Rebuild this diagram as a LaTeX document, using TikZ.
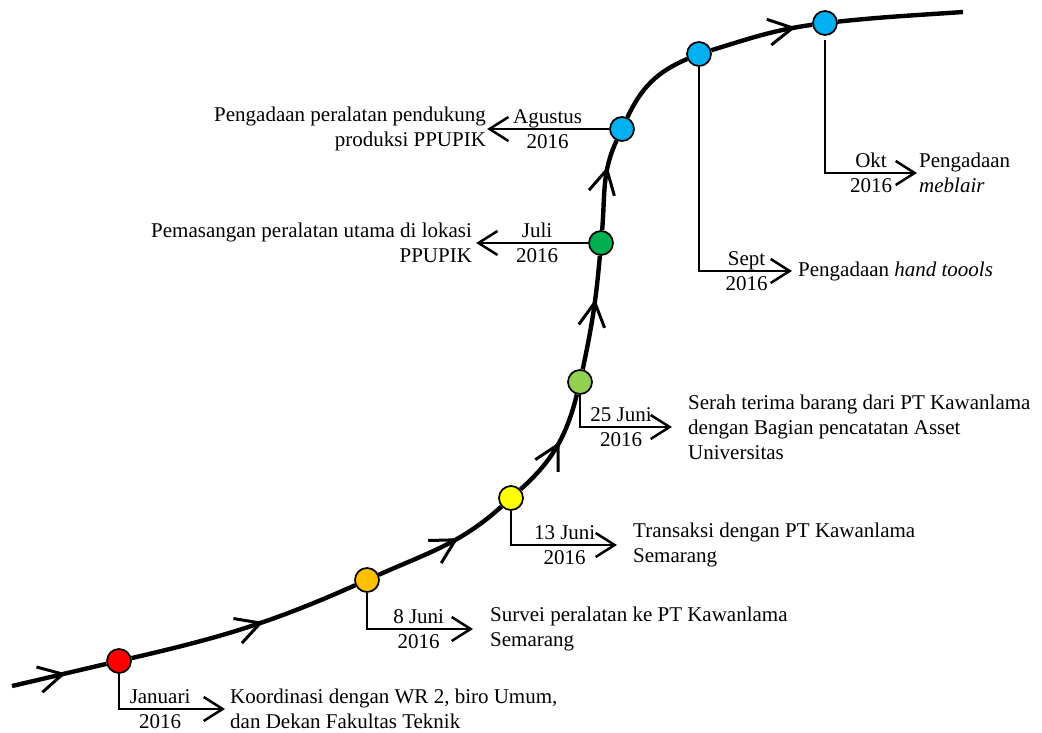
\documentclass[tikz,border=0pt]{standalone}
\usepackage{fontspec}
\setmainfont{Liberation Serif}
\usetikzlibrary{arrows.meta,positioning,decorations.markings}
\definecolor{dotRed}{HTML}{FF0000}
\definecolor{dotOrange}{HTML}{FFC000}
\definecolor{dotYellow}{HTML}{FFFF00}
\definecolor{dotLime}{HTML}{92D050}
\definecolor{dotGreen}{HTML}{00B050}
\definecolor{dotBlue}{HTML}{00B0F0}

\begin{document}
\begin{tikzpicture}[
  x=1pt, y=1pt,
  font=\fontsize{21}{25}\selectfont,
  dot/.style={circle, draw, line width=1.7pt, minimum size=24pt, inner sep=0pt},
  curve/.style={line width=4.4pt},
  midarrow/.style={postaction={decorate}, decoration={markings,
    mark=at position #1 with {\arrow{Straight Barb[length=24pt,width=26pt,line width=3pt]}}}},
  lead/.style={line width=2.5pt, -{Straight Barb[length=19pt,width=24pt]}},
  date/.style={align=center, inner sep=0pt},
  txt/.style={align=left, inner sep=0pt}
]
  \useasboundingbox (0,0) rectangle (1042,733);
  % Milestones
  \coordinate (start) at (12,47);
  \coordinate (end) at (963,721);
  \node[dot, fill=dotRed] (jan) at (119,72) {};
  \node[dot, fill=dotOrange] (jun8) at (367,153) {};
  \node[dot, fill=dotYellow] (jun13) at (511,235) {};
  \node[dot, fill=dotLime] (jun25) at (580,351) {};
  \node[dot, fill=dotGreen] (jul) at (601,490) {};
  \node[dot, fill=dotBlue] (agu) at (622,604) {};
  \node[dot, fill=dotBlue] (sep) at (699,679) {};
  \node[dot, fill=dotBlue] (okt) at (825,710) {};
  % Curve
  \draw[curve, midarrow=0.57] (start) to[out=13,in=193] (jan);
  \draw[curve, midarrow=0.58] (jan) to[out=13,in=204] (jun8);
  \draw[curve, midarrow=0.62] (jun8) to[out=24,in=222] (jun13);
  \draw[curve, midarrow=0.55] (jun13) to[out=42,in=256] (jun25);
  \draw[curve, midarrow=0.62] (jun25) to[out=78,in=265] (jul);
  \draw[curve, midarrow=0.7] (jul) to[out=85,in=245] (agu);
  \draw[curve] (agu) to[out=65,in=203] (sep);
  \draw[curve, midarrow=0.84] (sep) to[out=17,in=188] (okt);
  \draw[curve] (okt) to[out=6,in=184] (end);
  % Descriptions
  \node[txt, anchor=west] (jantxt) at (230,24)
    {Koordinasi dengan WR 2, biro Umum,\\dan Dekan Fakultas Teknik};
  \node[txt, anchor=west] (jun8txt) at (490,104)
    {Survei peralatan ke PT Kawanlama\\Semarang};
  \node[txt, anchor=west] (jun13txt) at (633,188)
    {Transaksi dengan PT Kawanlama\\Semarang};
  \node[txt, anchor=west] (jun25txt) at (688,306)
    {Serah terima barang dari PT Kawanlama\\dengan Bagian pencatatan Asset\\Universitas};
  \node[txt, align=right, left=116pt of jul] (jultxt)
    {Pemasangan peralatan utama di lokasi\\PPUPIK};
  \node[txt, align=right, left=123pt of agu] (agutxt)
    {Pengadaan peralatan pendukung\\produksi PPUPIK};
  \node[txt, anchor=west] (septxt) at (798,462) {Pengadaan \textit{hand toools}};
  \node[txt, anchor=west] (okttxt) at (919,560) {Pengadaan\\\textit{meblair}};
  % Leaders
  \draw[lead, shorten >=5pt] (jan) |- (jantxt) node[date, pos=0.685] {Januari\\2016};
  \draw[lead, shorten >=17pt] (jun8) |- (jun8txt) node[date, pos=0.71] {8 Juni\\2016};
  \draw[lead, shorten >=16pt] (jun13) |- (jun13txt) node[date, pos=0.72] {13 Juni\\2016};
  \draw[lead, shorten >=16pt] (jun25) |- (jun25txt) node[date, pos=0.69] {25 Juni\\2016};
  \draw[lead, shorten >=4pt] (jul) -- (jultxt) node[date, pos=0.44] {Juli\\2016};
  \draw[lead, shorten >=1pt] (agu) -- (agutxt) node[date, midway] {Agustus\\2016};
  \draw[lead, shorten >=6pt] (sep) |- (septxt) node[date, pos=0.74] {Sept\\2016};
  \draw[lead, shorten <=4pt, shorten >=2pt] (okt) |- (okttxt) node[date, pos=0.745] {Okt\\2016};
\end{tikzpicture}
\end{document}
